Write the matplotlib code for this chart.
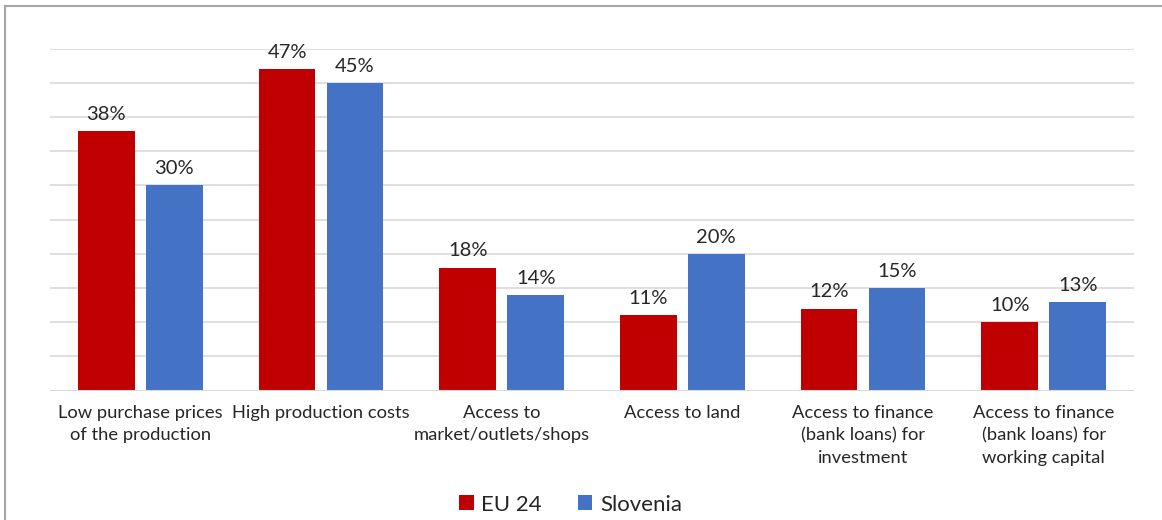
import numpy as np
import matplotlib.pyplot as plt
from matplotlib.patches import Rectangle

plt.rcParams['font.family'] = ['Lato', 'DejaVu Sans']

categories = [
    "Low purchase prices\nof the production",
    "High production costs",
    "Access to\nmarket/outlets/shops",
    "Access to land",
    "Access to finance\n(bank loans) for\ninvestment",
    "Access to finance\n(bank loans) for\nworking capital",
]
eu24 = [38, 47, 18, 11, 12, 10]
slovenia = [30, 45, 14, 20, 15, 13]

red = "#C00000"
blue = "#4472C4"
txt = "#262626"

fig = plt.figure(figsize=(11.62, 5.2), dpi=100)
ax = fig.add_axes([50 / 1162, 1 - 390.7 / 520, 1084 / 1162, (390.7 - 48.7) / 520])

x = np.arange(len(categories))
w = 0.315
off = 0.188
b1 = ax.bar(x - off, eu24, w, color=red, label="EU 24", zorder=3)
b2 = ax.bar(x + off, slovenia, w, color=blue, label="Slovenia", zorder=3)

for bars, vals in [(b1, eu24), (b2, slovenia)]:
    for b, v in zip(bars, vals):
        ax.text(b.get_x() + b.get_width() / 2, v + 1.2, f"{v}%",
                ha="center", va="bottom", fontsize=14.5, color=txt)

ax.set_xlim(-0.5, len(categories) - 0.5)
ax.set_ylim(0, 50)
ax.set_yticks(np.arange(0, 51, 5))
ax.set_yticklabels([])
ax.tick_params(axis="both", length=0)
ax.grid(axis="y", color="#d9d9d9", linewidth=1.2, zorder=0)
for s in ax.spines.values():
    s.set_visible(False)
ax.axhline(0, color="#d9d9d9", linewidth=1.5, zorder=4)

ax.set_xticks(x)
ax.set_xticklabels(categories, fontsize=13.2, color=txt, linespacing=1.5)
ax.tick_params(axis="x", pad=10)

leg = fig.legend(loc="lower center", bbox_to_anchor=(0.491, -0.028), ncol=2,
                 frameon=False, fontsize=16, handlelength=0.65, handleheight=0.65,
                 handletextpad=0.35, columnspacing=1.6, labelcolor=txt)

# outer frame
fig.patches.append(Rectangle((5 / 1162, -0.1), 1.2, 1.1 - 6 / 520,
                             transform=fig.transFigure, fill=False,
                             edgecolor="#a6a6a6", linewidth=1.5))

fig.savefig("out.png", dpi=100)
